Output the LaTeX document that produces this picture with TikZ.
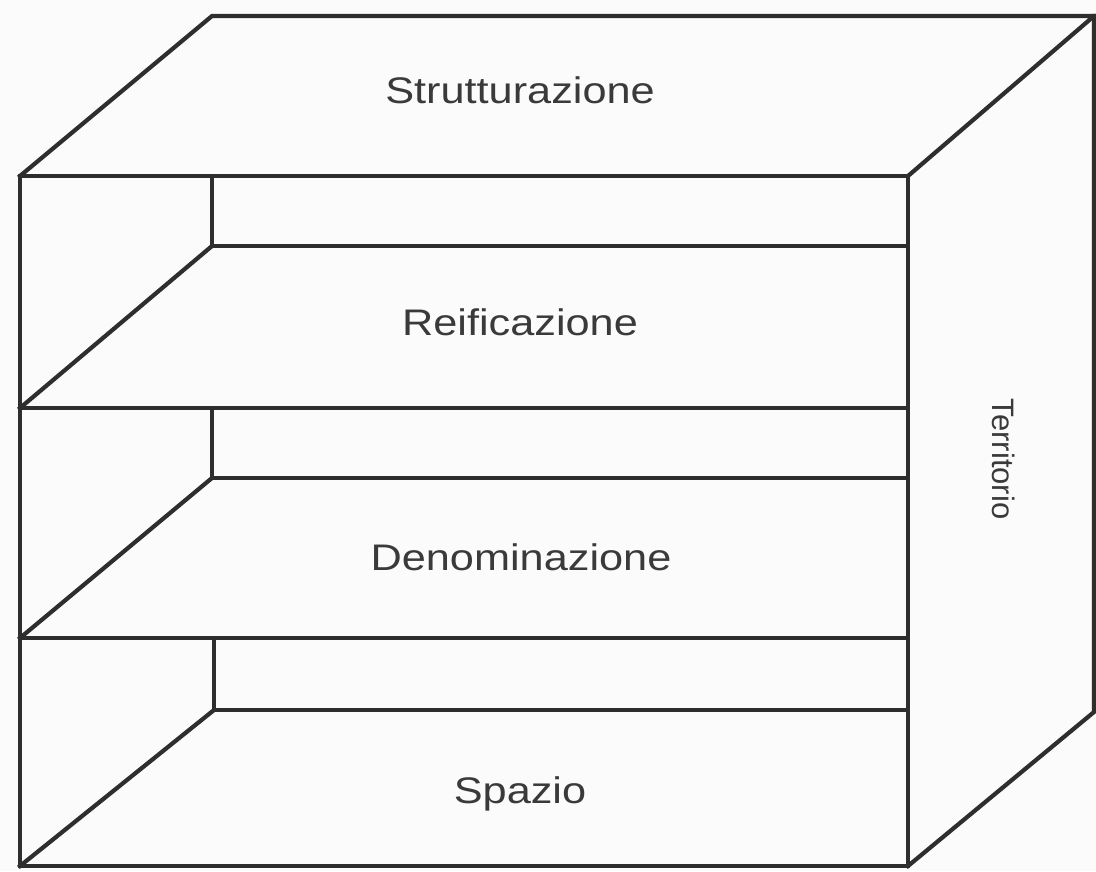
\documentclass[tikz,border=0pt]{standalone}
\usepackage{fontspec}
\setmainfont{Liberation Sans}
\definecolor{linec}{HTML}{2E2E2E}
\definecolor{txtc}{HTML}{3A3A3A}
\definecolor{bgc}{HTML}{FBFBFB}
\begin{document}
\begin{tikzpicture}[x=1pt,y=-1pt,
  edge/.style={draw=linec,line width=4.2pt,line join=miter,line cap=rect},
  shelflabel/.style={text=txtc,font=\fontsize{37}{40}\selectfont,xscale=1.17,inner sep=0pt},
  sidelabel/.style={text=txtc,font=\fontsize{31}{34}\selectfont,rotate=-90,inner sep=0pt}]
\useasboundingbox[fill=bgc] (0,0) rectangle (1096,871);
% outer box
\draw[edge] (20,176) -- (908,176) -- (908,866) -- (20,866) -- cycle;
\draw[edge] (20,176) -- (212,16) -- (1094,16) -- (908,176);
\draw[edge] (1094,16) -- (1094,712) -- (908,866);
% shelves
\draw[edge] (20,408) -- (908,408);
\draw[edge] (20,638) -- (908,638);
\draw[edge] (212,176) -- (212,246) -- (908,246);
\draw[edge] (20,408) -- (212,246);
\draw[edge] (212,408) -- (212,478) -- (908,478);
\draw[edge] (20,638) -- (212,478);
\draw[edge] (214,638) -- (214,710) -- (908,710);
\draw[edge] (20,866) -- (214,710);
% labels
\node[shelflabel] (strut) at (520,90) {Strutturazione};
\node[shelflabel] (reif) at (520,322) {Reificazione};
\node[shelflabel] (denom) at (521,557) {Denominazione};
\node[shelflabel] (spazio) at (520,794) {Spazio};
\node[sidelabel] (terr) at (1004,459) {Territorio};
\end{tikzpicture}
\end{document}
